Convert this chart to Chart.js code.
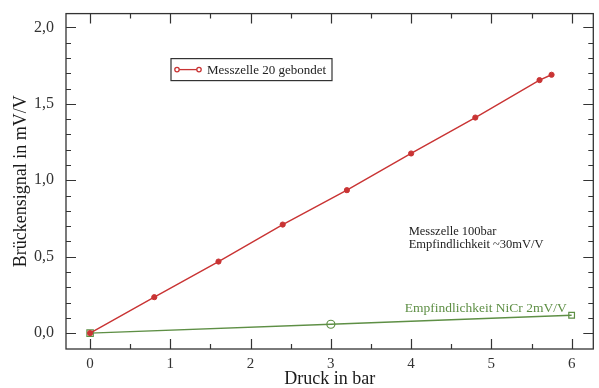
<!DOCTYPE html>
<html>
<head>
<meta charset="utf-8">
<script src="https://cdn.jsdelivr.net/npm/chart.js@4"></script>
<style>
  body { margin: 0; background: #fff; }
  canvas { display: block; }
</style>
</head>
<body>
<canvas id="chart" width="599" height="388"></canvas>
<script>
// Messzelle 20 gebondet
const druck20 = [0, 0.8, 1.6, 2.4, 3.2, 4.0, 4.8, 5.6, 5.75];
const signal20 = [0, 0.235, 0.468, 0.71, 0.935, 1.175, 1.41, 1.655, 1.69];

// NiCr reference, 2mV/V
const druckNiCr = [0, 3, 6];
const signalNiCr = [0, 0.058, 0.117];

const xMajor = [0, 1, 2, 3, 4, 5, 6];
const xMinor = [0.5, 1.5, 2.5, 3.5, 4.5, 5.5];
const yMajor = [0, 0.5, 1.0, 1.5, 2.0];
const yMinor = [0.1, 0.2, 0.3, 0.4, 0.6, 0.7, 0.8, 0.9, 1.1, 1.2, 1.3, 1.4, 1.6, 1.7, 1.8, 1.9, 2.1];

const legendLabel = 'Messzelle 20 gebondet';
const noteLines = ['Messzelle 100bar', 'Empfindlichkeit ~30mV/V'];
const nicrLabel = 'Empfindlichkeit NiCr 2mV/V';

const red = '#c93434';
const green = '#5e8f45';
const serif = '"Liberation Serif", "Times New Roman", serif';

const toPoints = (xs, ys) => xs.map((x, i) => ({ x: x, y: ys[i] }));

// frame + inward ticks on all four sides
const framePlugin = {
  id: 'frame',
  beforeDatasetsDraw(chart) {
    const { ctx, chartArea: a, scales } = chart;
    ctx.save();
    ctx.strokeStyle = '#333';
    ctx.lineWidth = 1.3;
    ctx.strokeRect(a.left, a.top, a.right - a.left, a.bottom - a.top);
    const tick = (vals, len) => {
      vals.forEach(v => {
        const px = Math.round(scales.x.getPixelForValue(v)) + 0.5;
        ctx.beginPath();
        ctx.moveTo(px, a.bottom); ctx.lineTo(px, a.bottom - len);
        ctx.moveTo(px, a.top); ctx.lineTo(px, a.top + len);
        ctx.stroke();
      });
    };
    const ytick = (vals, len) => {
      vals.forEach(v => {
        const py = Math.round(scales.y.getPixelForValue(v)) + 0.5;
        if (py < a.top + 2 || py > a.bottom - 2) return;
        ctx.beginPath();
        ctx.moveTo(a.left, py); ctx.lineTo(a.left + len, py);
        ctx.moveTo(a.right, py); ctx.lineTo(a.right - len, py);
        ctx.stroke();
      });
    };
    ctx.lineWidth = 1.2;
    tick(xMajor, 10);
    tick(xMinor, 5);
    ytick(yMajor, 10);
    ytick(yMinor, 5);
    ctx.restore();
  },
  afterDraw(chart) {
    const { ctx, chartArea: a, scales } = chart;
    ctx.save();
    // legend box
    const lx = a.left + 105, ly = a.top + 45, lw = 161, lh = 22;
    ctx.strokeStyle = '#333';
    ctx.lineWidth = 1.2;
    ctx.strokeRect(lx, ly, lw, lh);
    const sy = ly + lh / 2;
    ctx.strokeStyle = red;
    ctx.lineWidth = 1.3;
    ctx.beginPath();
    ctx.moveTo(lx + 5, sy); ctx.lineTo(lx + 29, sy);
    ctx.stroke();
    [lx + 6, lx + 28].forEach(cx => {
      ctx.beginPath();
      ctx.arc(cx, sy, 2.2, 0, Math.PI * 2);
      ctx.fillStyle = '#fff';
      ctx.fill();
      ctx.stroke();
    });
    ctx.fillStyle = '#222';
    ctx.font = '13px ' + serif;
    ctx.textBaseline = 'middle';
    ctx.textAlign = 'left';
    ctx.fillText(legendLabel, lx + 36, sy + 1);

    // notes
    ctx.font = '12.5px ' + serif;
    const nx = scales.x.getPixelForValue(3.97);
    ctx.fillText(noteLines[0], nx, scales.y.getPixelForValue(0.66));
    ctx.fillText(noteLines[1], nx, scales.y.getPixelForValue(0.575));
    ctx.fillStyle = green;
    ctx.font = '13.5px ' + serif;
    ctx.fillText(nicrLabel, scales.x.getPixelForValue(3.92), scales.y.getPixelForValue(0.163));
    ctx.restore();
  }
};

new Chart(document.getElementById('chart'), {
  type: 'scatter',
  data: {
    datasets: [
      {
        label: legendLabel,
        data: toPoints(druck20, signal20),
        showLine: true,
        borderColor: red,
        borderWidth: 1.4,
        pointRadius: 2.6,
        pointBackgroundColor: red,
        pointBorderColor: red,
        pointBorderWidth: 1
      },
      {
        label: nicrLabel,
        data: toPoints(druckNiCr, signalNiCr),
        showLine: true,
        borderColor: green,
        borderWidth: 1.4,
        pointStyle: ['rect', 'circle', 'rect'],
        pointRadius: [4.5, 4, 4],
        pointBackgroundColor: 'rgba(255,255,255,0)',
        pointBorderColor: green,
        pointBorderWidth: 1.2
      }
    ]
  },
  options: {
    responsive: false,
    devicePixelRatio: 1,
    animation: false,
    layout: { padding: { top: 11, right: 1, left: 0, bottom: 0 } },
    plugins: {
      legend: { display: false },
      tooltip: { enabled: false }
    },
    scales: {
      x: {
        type: 'linear',
        min: -0.3,
        max: 6.27,
        grid: { display: false },
        border: { display: false },
        afterBuildTicks: s => { s.ticks = xMajor.map(v => ({ value: v })); },
        afterFit: s => { s.height = 39; },
        ticks: {
          autoSkip: false,
          maxRotation: 0,
          padding: 0,
          color: '#333',
          font: { family: serif, size: 15, lineHeight: 1 },
          callback: v => String(v)
        },
        title: {
          display: true,
          text: 'Druck in bar',
          color: '#1a1a1a',
          padding: 0,
          font: { family: serif, size: 18, lineHeight: 1 }
        }
      },
      y: {
        type: 'linear',
        min: -0.104,
        max: 2.09,
        grid: { display: false },
        border: { display: false },
        afterBuildTicks: s => { s.ticks = yMajor.map(v => ({ value: v })); },
        afterFit: s => { s.width = 66; },
        ticks: {
          autoSkip: false,
          padding: 4,
          color: '#333',
          font: { family: serif, size: 16 },
          callback: v => v.toFixed(1).replace('.', ',')
        },
        title: {
          display: true,
          text: 'Brückensignal in mV/V',
          color: '#1a1a1a',
          padding: { top: 12, bottom: 0 },
          font: { family: serif, size: 18, lineHeight: 1 }
        }
      }
    }
  },
  plugins: [framePlugin]
});
</script>
</body>
</html>
